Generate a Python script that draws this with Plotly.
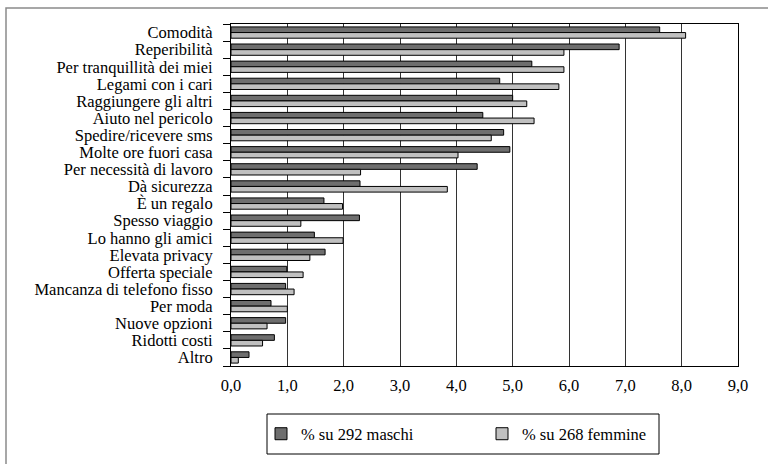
import plotly.graph_objects as go

# Motivi di possesso del cellulare, in percentuale per sesso
motivi = [
    "Comodità", "Reperibilità", "Per tranquillità dei miei", "Legami con i cari",
    "Raggiungere gli altri", "Aiuto nel pericolo", "Spedire/ricevere sms",
    "Molte ore fuori casa", "Per necessità di lavoro", "Dà sicurezza",
    "È un regalo", "Spesso viaggio", "Lo hanno gli amici", "Elevata privacy",
    "Offerta speciale", "Mancanza di telefono fisso", "Per moda",
    "Nuove opzioni", "Ridotti costi", "Altro",
]
maschi = [7.61, 6.89, 5.34, 4.77, 5.0, 4.47, 4.84, 4.95, 4.37, 2.29,
          1.65, 2.28, 1.48, 1.67, 0.99, 0.97, 0.71, 0.97, 0.77, 0.32]
femmine = [8.07, 5.91, 5.91, 5.82, 5.25, 5.38, 4.62, 4.03, 2.30, 3.84,
           1.98, 1.24, 1.99, 1.40, 1.28, 1.12, 1.0, 0.64, 0.56, 0.13]
x_ticks = [0, 1, 2, 3, 4, 5, 6, 7, 8, 9]

FONT = "Liberation Serif"
SIZE = 16.5

# plot area in pixels: x 231..738, y 24..366
L, R, T, B = 231, 738, 24, 366
PW, PH = R - L, B - T


def px_x(v):
    return (v - L) / PW


def px_y(v):
    return (B - v) / PH


fig = go.Figure()
fig.add_trace(go.Bar(
    y=motivi, x=maschi, orientation="h", name="% su 292 maschi",
    marker=dict(color="#6e6e6e", line=dict(color="#000000", width=1)),
))
fig.add_trace(go.Bar(
    y=motivi, x=femmine, orientation="h", name="% su 268 femmine",
    marker=dict(color="#c0c0c0", line=dict(color="#000000", width=1)),
))

fig.update_layout(
    width=768, height=464,
    margin=dict(l=L, r=768 - R, t=T, b=464 - B),
    paper_bgcolor="white", plot_bgcolor="white",
    barmode="group", bargap=0.34, bargroupgap=0.0,
    separators=",.",
    font=dict(family=FONT, size=SIZE, color="#000000"),
    showlegend=True,
    legend=dict(
        orientation="h", x=px_x(261), y=px_y(434), xanchor="left", yanchor="middle",
        borderwidth=0, bgcolor="rgba(0,0,0,0)",
        entrywidth=176, entrywidthmode="pixels",
        font=dict(family=FONT, size=SIZE, color="#000000"),
        itemwidth=30,
    ),
    xaxis=dict(
        range=[0, 9], tickvals=x_ticks, tickformat=".1f",
        showgrid=True, gridcolor="#333333", gridwidth=1,
        showline=True, linecolor="#000000", linewidth=1, mirror=True,
        ticks="", zeroline=False, ticklabelstandoff=4,
        tickfont=dict(family=FONT, size=SIZE, color="#000000"),
    ),
    yaxis=dict(
        type="category", autorange="reversed",
        tickmode="array", tickvals=motivi, ticktext=motivi,
        showgrid=False, showline=True, linecolor="#000000", linewidth=1, mirror=True,
        ticks="outside", ticklen=7, tickcolor="#000000", tickson="boundaries",
        ticklabelstandoff=14,
        tickfont=dict(family=FONT, size=SIZE, color="#000000"),
    ),
    shapes=[
        # outer frame
        dict(type="rect", xref="paper", yref="paper",
             x0=px_x(6), x1=px_x(775), y0=px_y(470), y1=px_y(8),
             line=dict(color="#8a8a8a", width=1.5), layer="below"),
        # legend box
        dict(type="rect", xref="paper", yref="paper",
             x0=px_x(267), x1=px_x(659), y0=px_y(454), y1=px_y(414),
             line=dict(color="#000000", width=1), fillcolor="white", layer="below"),
    ],
)

fig.write_html("out.html")
